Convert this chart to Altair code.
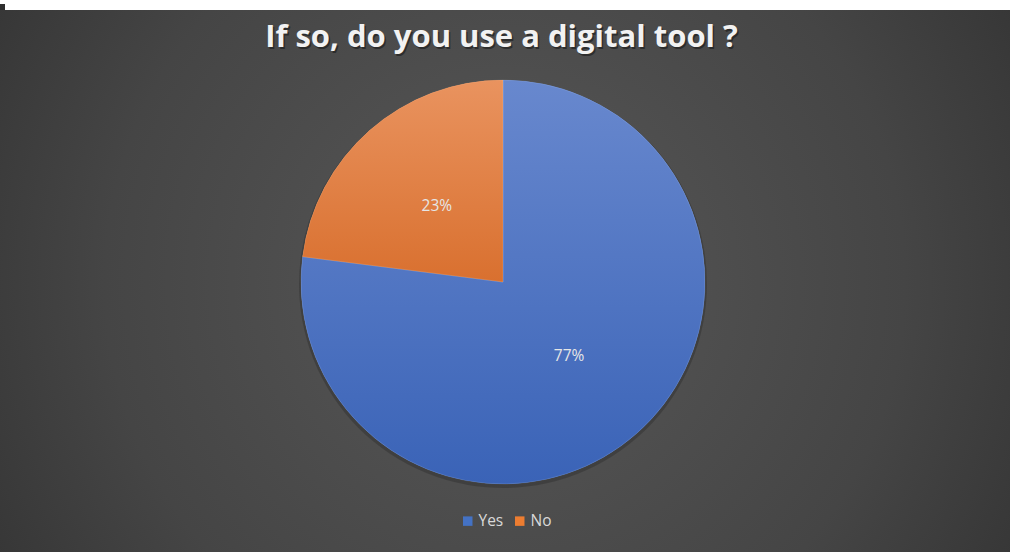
import altair as alt
import pandas as pd

categories = ["Yes", "No"]
values = [77, 23]
colors = ["#4472C4", "#ED7D31"]
title_text = "If so, do you use a digital tool ?"

W, H = 1010, 552
CX, CY, R = 503, 282, 202

df = pd.DataFrame({"category": categories, "value": values, "order": list(range(len(categories)))})
one = pd.DataFrame({"k": [0]})

bg_grad = {
    "gradient": "radial", "x1": 0.5, "y1": 0.5, "r1": 0, "x2": 0.5, "y2": 0.5, "r2": 0.72,
    "stops": [{"offset": 0, "color": "#585858"}, {"offset": 0.55, "color": "#454545"}, {"offset": 1, "color": "#2b2b2b"}],
}
blue_grad = {
    "gradient": "linear", "x1": 0, "y1": 0, "x2": 0, "y2": 1,
    "stops": [{"offset": 0, "color": "#6888CE"}, {"offset": 1, "color": "#3A63B7"}],
}
orange_grad = {
    "gradient": "linear", "x1": 0, "y1": 0, "x2": 0, "y2": 1,
    "stops": [{"offset": 0, "color": "#E9935F"}, {"offset": 1, "color": "#D9702F"}],
}

bg = alt.Chart(one).mark_rect(fill=bg_grad).encode(
    x=alt.value(0), x2=alt.value(W), y=alt.value(10), y2=alt.value(H)
)
corner = alt.Chart(one).mark_rect(fill="#2e2e2e").encode(
    x=alt.value(0), x2=alt.value(5), y=alt.value(4), y2=alt.value(10)
)

pie = (
    alt.Chart(df)
    .transform_joinaggregate(total="sum(value)")
    .transform_window(cum="sum(value)", frame=[None, 0], sort=[alt.SortField("order")])
    .transform_calculate(
        t0="(datum.cum - datum.value) / datum.total * 2 * PI",
        t1="datum.cum / datum.total * 2 * PI",
        tm="(datum.cum - datum.value / 2) / datum.total * 2 * PI",
        label="datum.value + '%'",
    )
)

shadow = pie.mark_arc(outerRadius=R + 2, color="#000000", opacity=0.18).encode(
    theta=alt.Theta("t0:Q", scale=None), theta2=alt.Theta2("t1:Q"),
    x=alt.value(CX), y=alt.value(CY + 2),
)

base = pie.mark_arc(outerRadius=R).encode(
    theta=alt.Theta("t0:Q", scale=None), theta2=alt.Theta2("t1:Q"),
    x=alt.value(CX), y=alt.value(CY),
    color=alt.Color(
        "category:N",
        scale=alt.Scale(domain=categories, range=colors),
        sort=categories,
        legend=alt.Legend(
            title=None, orient="none", legendX=460, legendY=513, direction="horizontal",
            symbolType="square", symbolSize=90, symbolStrokeWidth=0,
            labelColor="#D9D9D9", labelFontSize=15.5, labelFont="Open Sans",
            columnPadding=8, symbolOffset=0, labelOffset=3,
        ),
    ),
)

yes_layer = pie.transform_filter(alt.datum.category == "Yes").mark_arc(
    outerRadius=R, fill=blue_grad, stroke="#ffffff", strokeOpacity=0.2, strokeWidth=0.6
).encode(
    theta=alt.Theta("t0:Q", scale=None), theta2=alt.Theta2("t1:Q"),
    x=alt.value(CX), y=alt.value(CY),
)
no_layer = pie.transform_filter(alt.datum.category == "No").mark_arc(
    outerRadius=R, fill=orange_grad, stroke="#ffffff", strokeOpacity=0.2, strokeWidth=0.6
).encode(
    theta=alt.Theta("t0:Q", scale=None), theta2=alt.Theta2("t1:Q"),
    x=alt.value(CX), y=alt.value(CY),
)

labels = pie.mark_text(font="Open Sans", fontSize=15.5, color="#E6E6E6", align="center", baseline="middle").encode(
    theta=alt.Theta("tm:Q", scale=None), radius=alt.value(100),
    x=alt.value(CX), y=alt.value(CY - 1),
    text="label:N",
)

tdf = pd.DataFrame({"t": [title_text]})
title_shadow = alt.Chart(tdf).mark_text(
    font="Open Sans", fontSize=31, fontWeight="bold", color="#000000", opacity=0.4,
    align="center", baseline="alphabetic",
).encode(x=alt.value(503), y=alt.value(49), text="t:N")
title = alt.Chart(tdf).mark_text(
    font="Open Sans", fontSize=31, fontWeight="bold", color="#F2F2F2",
    align="center", baseline="alphabetic",
).encode(x=alt.value(501.5), y=alt.value(47), text="t:N")

chart = (
    alt.layer(bg, corner, shadow, base, yes_layer, no_layer, labels, title_shadow, title)
    .properties(width=W, height=H, background="#ffffff", padding=0,
                autosize=alt.AutoSizeParams(type="none"))
    .configure_view(stroke=None)
)

chart.save("out.html", embed_options={"renderer": "svg", "actions": False})
